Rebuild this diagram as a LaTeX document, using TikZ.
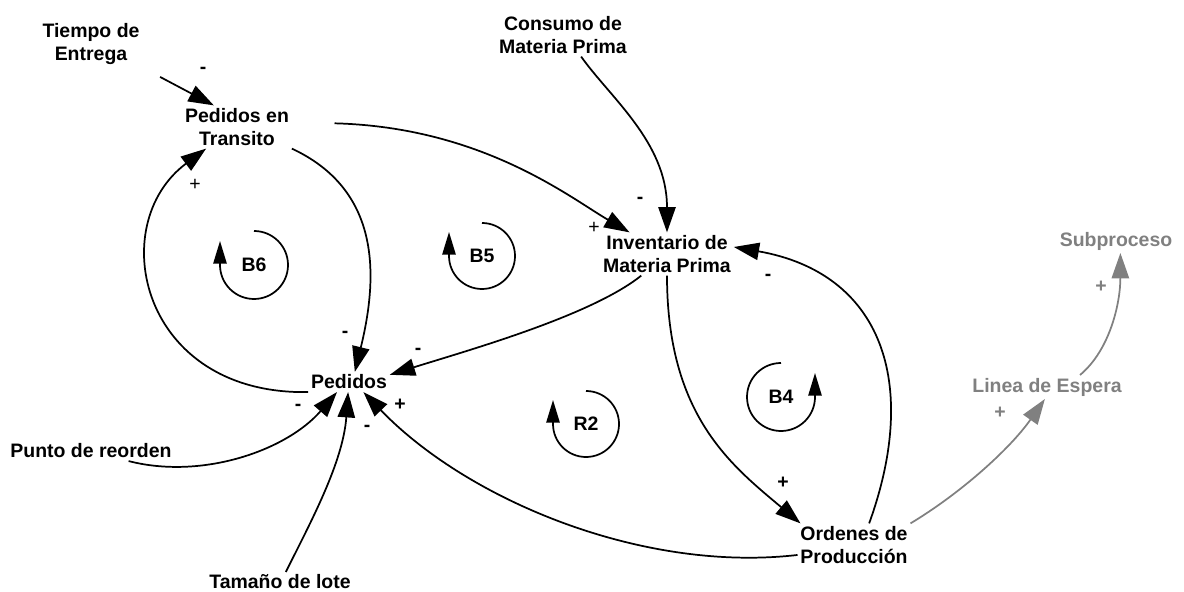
\documentclass[tikz,border=0pt]{standalone}
\usepackage{fontspec}
\setmainfont{Liberation Sans}
\usetikzlibrary{arrows.meta}
\definecolor{shade}{RGB}{128,128,128}
\begin{document}
\begin{tikzpicture}[x=0.75pt,y=0.75pt,
  var/.style={font=\bfseries\fontsize{14.6}{17.3}\selectfont, align=center, inner sep=2pt},
  pol/.style={font=\bfseries\fontsize{14.6}{17}\selectfont, inner sep=0pt},
  polthin/.style={font=\fontsize{14.6}{17}\selectfont, inner sep=0pt},
  link/.style={line width=1.3pt, -{Triangle[length=19pt,width=13pt]}},
  loopsym/.style={line width=1.3pt, -{Triangle[length=17pt,width=10pt]}},
  ghost/.style={color=shade}]
\useasboundingbox (0,0) rectangle (1184,592);

% variables
\node[var] (tiempo)     at (91,548)   {Tiempo de\\Entrega};
\node[var] (transito)   at (237,465)  {Pedidos en\\Transito};
\node[var] (consumo)    at (563,557)  {Consumo de\\Materia Prima};
\node[var] (inventario) at (667,338)  {Inventario de\\Materia Prima};
\node[var] (pedidos)    at (349,210)  {Pedidos};
\node[var] (punto)      at (91,141)   {Punto de reorden};
\node[var] (lote)       at (280,10)   {Tamaño de lote};
\node[var] (ordenes)    at (854,47)   {Ordenes de\\Producción};
\node[var, ghost] (linea)      at (1047,205) {Linea de Espera};
\node[var, ghost] (subproceso) at (1116,351) {Subproceso};

% causal links
\draw[link, shorten <=15pt] (tiempo.south east) -- (transito.137);
\draw[link, shorten <=32pt] (transito.5) .. controls +(190,-5) and +(-60,35) .. (inventario.150);
\draw[link] (consumo.-50) .. controls +(29,-41) and +(0,90) .. (inventario.north);
\draw[link] (inventario.-140) .. controls +(-50,-40) and +(80,25) .. (pedidos.10);
\draw[link] (transito.south east) .. controls +(88,-41) and +(24,98) .. (pedidos.60);
\draw[link] (pedidos.south west) .. controls +(-168,-3) and +(-102,-76) .. (transito.-145);
\draw[link] (punto.-15) .. controls +(74,-19) and +(-50,-58) .. (pedidos.-140);
\draw[link] (lote.60) .. controls +(25,50) and +(-5,-70) .. (pedidos.-95);
\draw[link] (ordenes.-170) .. controls +(-155,-18) and +(104,-108) .. (pedidos.-35);
\draw[link] (inventario.south) .. controls +(0,-140) and +(-69,58) .. (ordenes.158);
\draw[link] (ordenes.55) .. controls +(51,141) and +(148,-26) .. (inventario.6);
\draw[link, ghost] (ordenes.north east) .. controls +(50,30) and +(-35,-50) .. (linea.-100);
\draw[link, ghost] (linea.20) .. controls +(30,25) and +(0,-50) .. (subproceso.-70);

% polarities
\node[pol]     (p1)  at (203,522)  {-};
\node[polthin] (p2)  at (594,364)  {+};
\node[pol]     (p3)  at (640,392)  {-};
\node[pol]     (p4)  at (418,241)  {-};
\node[pol]     (p5)  at (345,258)  {-};
\node[polthin] (p6)  at (195,407)  {+};
\node[pol]     (p7)  at (298,185)  {-};
\node[pol]     (p8)  at (367,164)  {-};
\node[pol]     (p9)  at (400,187)  {+};
\node[pol]     (p10) at (783,109)  {+};
\node[pol]     (p11) at (768,315)  {-};
\node[pol, ghost] (p12) at (1000,179) {+};
\node[pol, ghost] (p13) at (1101,305) {+};

% loop markers
\node[var] (b6) at (254,327) {B6};
\draw[loopsym] ([yshift=25.5pt]b6.center) arc[start angle=90, end angle=-180, radius=34] -- ++(0,24);
\node[var] (b5) at (482,336) {B5};
\draw[loopsym] ([yshift=24.75pt]b5.center) arc[start angle=90, end angle=-180, radius=33] -- ++(0,24);
\node[var] (r2) at (586,168) {R2};
\draw[loopsym] ([yshift=24.75pt]r2.center) arc[start angle=90, end angle=-180, radius=33] -- ++(0,24);
\node[var] (b4) at (781,195) {B4};
\draw[loopsym] ([yshift=25.5pt]b4.center) arc[start angle=90, end angle=360, radius=34] -- ++(0,24);
\end{tikzpicture}
\end{document}
